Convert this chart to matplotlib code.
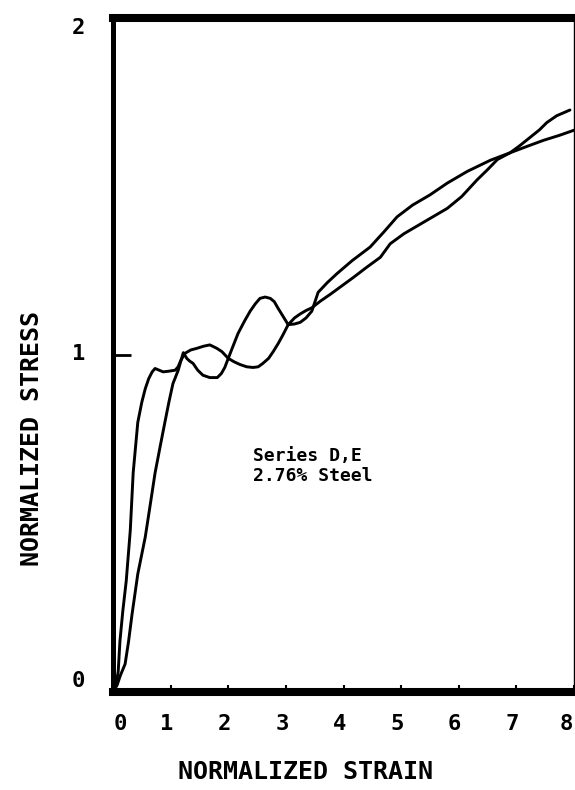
import matplotlib
matplotlib.use("Agg")
import matplotlib.pyplot as plt
import matplotlib.transforms as mtransforms

# Normalized stress-strain response, two specimens
strain_d = [0.0, 0.05, 0.09, 0.12, 0.17, 0.23, 0.30, 0.35, 0.43, 0.50, 0.56, 0.62, 0.68,
            0.73, 0.80, 0.87, 0.97, 1.08, 1.13, 1.18, 1.25, 1.35, 1.46, 1.57, 1.68,
            1.80, 1.89, 2.00, 2.10, 2.20, 2.32, 2.43, 2.52, 2.60, 2.70, 2.78, 2.87,
            2.95, 3.04, 3.15, 3.25, 3.35, 3.45, 3.60, 3.77, 3.97, 4.17, 4.40, 4.64,
            4.81, 5.05, 5.30, 5.55, 5.80, 6.05, 6.32, 6.50, 6.67, 6.89, 7.05, 7.24,
            7.40, 7.53, 7.70, 7.93]
stress_d = [0.0, 0.02, 0.06, 0.15, 0.24, 0.33, 0.48, 0.65, 0.80, 0.86, 0.90, 0.93, 0.95,
            0.96, 0.955, 0.95, 0.952, 0.955, 0.965, 0.985, 1.005, 1.015, 1.02, 1.026, 1.03,
            1.02, 1.01, 0.99, 0.98, 0.972, 0.965, 0.963, 0.965, 0.975, 0.99, 1.01, 1.035,
            1.06, 1.09, 1.11, 1.122, 1.132, 1.14, 1.16, 1.18, 1.205, 1.23, 1.26, 1.29,
            1.33, 1.36, 1.385, 1.41, 1.435, 1.47, 1.52, 1.55, 1.58, 1.60, 1.62, 1.646,
            1.668, 1.69, 1.71, 1.727]

strain_e = [0.0, 0.07, 0.13, 0.21, 0.27, 0.33, 0.43, 0.56, 0.65, 0.73, 0.82, 0.90, 0.97,
            1.04, 1.13, 1.22, 1.28, 1.33, 1.39, 1.47, 1.56, 1.68, 1.81, 1.88, 1.94,
            2.00, 2.08, 2.17, 2.28, 2.38, 2.47, 2.55, 2.64, 2.73, 2.80, 2.86, 2.95,
            3.04, 3.15, 3.25, 3.35, 3.45, 3.56, 3.72, 3.89, 4.15, 4.46, 4.70, 4.93,
            5.20, 5.50, 5.80, 6.15, 6.55, 6.89, 7.20, 7.47, 7.75, 8.00]
stress_e = [0.0, 0.02, 0.05, 0.083, 0.15, 0.23, 0.35, 0.46, 0.56, 0.65, 0.73, 0.80, 0.86,
            0.915, 0.954, 1.007, 0.99, 0.982, 0.975, 0.955, 0.94, 0.933, 0.933, 0.945, 0.963,
            0.99, 1.025, 1.064, 1.10, 1.13, 1.152, 1.168, 1.172, 1.168, 1.158, 1.14, 1.115,
            1.09, 1.092, 1.097, 1.11, 1.13, 1.186, 1.215, 1.242, 1.28, 1.32, 1.365, 1.41,
            1.445, 1.475, 1.51, 1.545, 1.578, 1.60, 1.62, 1.637, 1.652, 1.667]

x_ticks = [0, 1, 2, 3, 4, 5, 6, 7, 8]
y_ticks = [0, 1, 2]
note_lines = ["Series D,E", "2.76% Steel"]

mono = "DejaVu Sans Mono"
W, H = 575, 790
fig = plt.figure(figsize=(W / 100, H / 100), dpi=100)
ax = fig.add_axes([113 / W, 1 - 692 / H, (574 - 113) / W, (692 - 18) / H])

ax.plot(strain_d, stress_d, color="black", lw=2.1, solid_joinstyle="round",
        solid_capstyle="round")
ax.plot(strain_e, stress_e, color="black", lw=2.1, solid_joinstyle="round",
        solid_capstyle="round")

ax.set_xlim(0, 8)
ax.set_ylim(0, 2)

for side, lw in (("left", 3.6), ("bottom", 5.8), ("top", 5.8), ("right", 1.0)):
    ax.spines[side].set_linewidth(lw)
    ax.spines[side].set_color("black")
    ax.spines[side].set_capstyle("projecting")

ax.set_xticks(x_ticks)
ax.set_xticklabels([str(v) for v in x_ticks], fontfamily=mono, fontsize=16,
                   fontweight="bold")
ax.set_yticks(y_ticks)
ax.set_yticklabels([str(v) for v in y_ticks], fontfamily=mono, fontsize=16,
                   fontweight="bold")
ax.tick_params(axis="x", direction="in", length=5, width=1.5, pad=16)
ax.tick_params(axis="y", direction="in", length=13, width=2.0, pad=20)

# per-label pixel nudges for the hand-lettered tick labels
x_nudge = {0: 7, 8: -8}
for val, lbl in zip(x_ticks, ax.get_xticklabels()):
    dx = x_nudge.get(val, -4)
    lbl.set_transform(lbl.get_transform() +
                      mtransforms.ScaledTranslation(dx / 100, 0, fig.dpi_scale_trans))
y_nudge = {0: 13, 1: 3, 2: -8}
for val, lbl in zip(y_ticks, ax.get_yticklabels()):
    lbl.set_transform(lbl.get_transform() +
                      mtransforms.ScaledTranslation(0, y_nudge[val] / 100, fig.dpi_scale_trans))

ax.text(2.43, 0.67, "\n".join(note_lines), fontfamily=mono, fontsize=13,
        fontweight="bold", ha="left", va="center", linespacing=1.15)

fig.text(306 / W, 1 - 772 / H, "NORMALIZED STRAIN", fontfamily=mono, fontsize=18,
         fontweight="bold", ha="center", va="center")
fig.text(32 / W, 1 - 439 / H, "NORMALIZED STRESS", fontfamily=mono, fontsize=18,
         fontweight="bold", ha="center", va="center", rotation=90)

fig.savefig("out.png", dpi=100)
